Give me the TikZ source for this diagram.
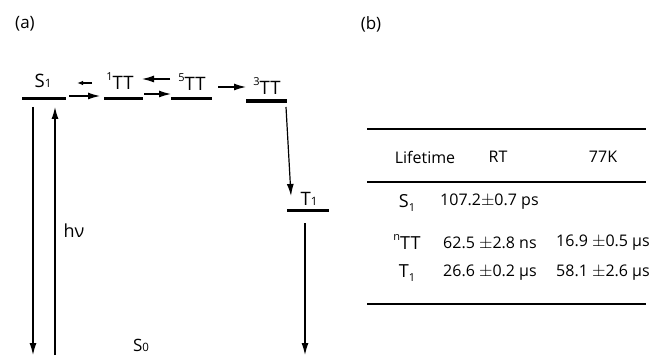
\documentclass[tikz,border=0pt]{standalone}
\usepackage{fontspec}
\setmainfont{Open Sans}
\usetikzlibrary{arrows.meta}
\tikzset{
  lvl/.style={line width=3pt},
  tr/.style={line width=1.2pt,-{Latex[length=12pt,width=7pt]}},
  trs/.style={line width=1.1pt,-{Latex[length=6pt,width=4.5pt]}},
  lab/.style={inner sep=0pt,font=\fontsize{18.5}{18.5}\selectfont},
  tab/.style={inner sep=0pt,font=\fontsize{16}{16}\selectfont},
  rowlab/.style={inner sep=0pt,font=\fontsize{18}{18}\selectfont},
  rule/.style={line width=1.2pt}
}
\newcommand{\lsub}[1]{{\fontsize{11.5}{11.5}\selectfont #1}}
\newcommand{\tsub}[1]{\raisebox{-0.2em}{\fontsize{11}{11}\selectfont #1}}
\newcommand{\lsup}[1]{\raisebox{0.45em}{\fontsize{11}{11}\selectfont #1}}
\newcommand{\pmw}{{\fontsize{18}{18}\selectfont$\pm$}}
\begin{document}
\begin{tikzpicture}[x=1pt,y=-1pt]
\useasboundingbox (0,0) rectangle (653,358);
% panel labels
\node[lab,font=\fontsize{17}{17}\selectfont] (pa) at (25,24) {(a)};
\node[lab,font=\fontsize{17}{17}\selectfont] (pb) at (371,24) {(b)};
% levels
\draw[lvl] (22,98.5) coordinate (s1l) -- (66,98.5) coordinate (s1r);
\draw[lvl] (104,98.5) coordinate (tt1l) -- (143,98.5) coordinate (tt1r);
\draw[lvl] (171,98.5) coordinate (tt5l) -- (212,98.5) coordinate (tt5r);
\draw[line width=3.2pt] (246,101) coordinate (tt3l) -- (287,101) coordinate (tt3r);
\draw[lvl] (287,210.5) coordinate (t1l) -- (329,210.5) coordinate (t1r);
% level labels
\node[lab] (S1) at (43,81) {S\lsub{1}};
\node[lab] (TT1) at (120,81) {\lsup{1}TT};
\node[lab] (TT5) at (192,82) {\lsup{5}TT};
\node[lab] (TT3) at (267,86) {\lsup{3}TT};
\node[lab] (T1) at (309,199) {T\lsub{1}};
\node[lab,font=\fontsize{17}{17}\selectfont] (S0) at (141,345) {S\lsub{0}};
\node[lab,font=\fontsize{18}{18}\selectfont] (hv) at (74,231) {hν};
% arrow end points
\coordinate (a1s) at (69,96);  \coordinate (a1e) at (100,96);
\coordinate (b1s) at (92,83);  \coordinate (b1e) at (77,83);
\coordinate (a2s) at (144,94); \coordinate (a2e) at (171,94);
\coordinate (b2s) at (170,79); \coordinate (b2e) at (142,79);
\coordinate (a3s) at (218,87); \coordinate (a3e) at (246,87);
\coordinate (a4s) at (286,107); \coordinate (a4e) at (291,196);
\coordinate (s1ds) at (33,107); \coordinate (s1de) at (33,355);
\coordinate (hvs) at (55,355); \coordinate (hve) at (55,107);
\coordinate (t1ds) at (305,223); \coordinate (t1de) at (305,355);
\draw[tr] (a1s) -- (a1e);
\draw[trs] (b1s) -- (b1e);
\draw[tr] (a2s) -- (a2e);
\draw[tr] (b2s) -- (b2e);
\draw[tr] (a3s) -- (a3e);
\draw[tr] (a4s) -- (a4e);
\draw[tr] (s1ds) -- (s1de);
\draw[tr] (hvs) -- (hve);
\draw[tr] (t1ds) -- (t1de);
% table
\draw[rule] (367,129) coordinate (r1l) -- (646,129) coordinate (r1r);
\draw[rule] (367,182) coordinate (r2l) -- (646,182) coordinate (r2r);
\draw[rule] (367,304) coordinate (r3l) -- (646,304) coordinate (r3r);
\node[tab] (h1) at (425,157) {Lifetime};
\node[tab] (h2) at (498,157) {RT};
\node[tab] (h3) at (603,157) {77K};
\node[rowlab] (rs1) at (407,203) {S\tsub{1}};
\node[rowlab] (rtt) at (407,242) {\lsup{n}TT};
\node[rowlab] (rt1) at (407,273) {T\tsub{1}};
\node[tab,anchor=west] (v1) at (440,202) {107.2\pmw0.7 ps};
\node[tab,anchor=west] (v2) at (443,243) {62.5 \pmw2.8 ns};
\node[tab,anchor=west] (v3) at (556,243) {16.9 \pmw0.5 μs};
\node[tab,anchor=west] (v4) at (443,273) {26.6 \pmw0.2 μs};
\node[tab,anchor=west] (v5) at (556,273) {58.1 \pmw2.6 μs};
\end{tikzpicture}
\end{document}
